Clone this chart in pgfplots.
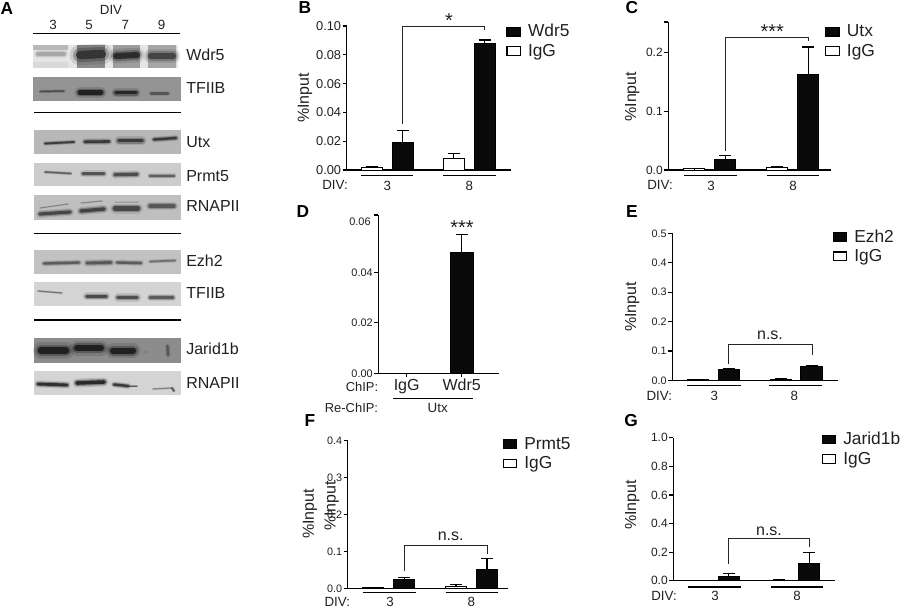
\documentclass[border=0pt]{standalone}
\usepackage{pgfplots}
\pgfplotsset{compat=1.18}
\usepackage{fontspec}
\setmainfont{Liberation Sans}
\definecolor{barblk}{HTML}{0A0A0A}
\definecolor{lab}{HTML}{231F20}
\newcommand{\fz}[1]{\fontsize{#1}{#1}\selectfont}
% ---- overlay helpers, coordinates in reference pixels
\newcommand{\bg}[5]{\addplot[draw=none,fill=black!#5] coordinates {(#1,#3)(#2,#3)(#2,#4)(#1,#4)} --cycle;}
\newcommand{\band}[6]{%
  \addplot[black!#6,opacity=.14,line width=#5*2.2pt,line cap=round] coordinates {(#1,#3)(#2,#4)};
  \addplot[black!#6,opacity=.3,line width=#5*1.5pt,line cap=round] coordinates {(#1,#3)(#2,#4)};
  \addplot[black!#6,opacity=.75,line width=#5*.9pt,line cap=round] coordinates {(#1,#3)(#2,#4)};}
\newcommand{\rul}[3]{\addplot[black,line width=1.1pt] coordinates {(#1,#3)(#2,#3)};}
\newcommand{\lbl}[3]{\node[font=\fz{12},text=lab,anchor=west,inner sep=0pt] at (axis cs:#1,#2) {#3};}
\newcommand{\txt}[4]{\node[font=\fz{#3},text=lab,inner sep=0pt] at (axis cs:#1,#2) {#4};}
\newcommand{\letter}[3]{\node[font=\fz{13}\bfseries,inner sep=0pt] at (axis cs:#1,#2) {#3};}
\pgfplotsset{
  panel/.style={scale only axis, anchor=south west, clip=false,
    axis lines=left, axis line style={-,line width=.9pt,black},
    tick style={line width=.9pt,black}, tick align=outside, major tick length=3pt,
    xtick=\empty, ymin=0, scaled y ticks=false,
    yticklabel style={text=lab,inner sep=1pt},
    y label style={font=\fz{12},text=lab,anchor=center},
    legend cell align=left,
    legend image code/.code={\draw[##1,line width=.9pt] (0pt,-2.5pt) rectangle (10pt,3.9pt);\path (15.5pt,0pt);},
  },
  lg/.style 2 args={legend style={at={(rel axis cs:0,0)},anchor=north west,xshift=#1,yshift=#2+1.9pt,
    draw=none,fill=none,inner sep=0pt,font=\fz{13},text=lab,row sep=2.1pt,
    nodes={inner sep=0pt,text height=9.5pt,text depth=3pt}}},
  errs/.style={/pgfplots/error bars/y dir=plus,/pgfplots/error bars/y explicit,
    /pgfplots/error bars/error bar style={line width=.9pt,black},
    /pgfplots/error bars/error mark options={rotate=90,mark size=4.5pt,line width=.9pt,black}},
  sbar/.style={ybar,bar shift=0pt,draw=black,fill=barblk,line width=.7pt,errs},
  wbar/.style={ybar,bar shift=0pt,draw=black,fill=white,line width=.7pt,errs},
  brk/.style={line width=.7pt,black!85,forget plot},
}
\begin{document}
\begin{tikzpicture}
\useasboundingbox (0,-456pt) rectangle (675pt,0pt);
% ===== overlay: panel A, rules, annotations
\begin{axis}[at={(0pt,-456pt)},anchor=south west,scale only axis,width=675pt,height=456pt,
  xmin=0,xmax=900,ymin=0,ymax=608,y dir=reverse,hide axis,clip=false]
% Wdr5
\bg{33.3}{178}{45}{68.3}{10}
\bg{33.3}{68}{45}{50}{28}\bg{33.3}{68}{62}{68.3}{15}
\bg{77}{105}{45}{68.3}{45}\bg{113}{140}{45}{68.3}{38}\bg{148}{176}{45}{68.3}{35}
\band{38}{64}{54}{54}{3}{38}
\band{80}{102}{55}{54}{7}{85}
\band{116}{137}{56}{55}{5}{90}
\band{151}{173}{56}{56}{5}{80}
% TFIIB
\bg{33.3}{181}{77.3}{101}{42}
\band{40}{64}{91.5}{91}{1.2}{75}
\band{80}{101}{92.5}{92.5}{3.8}{95}
\band{116}{136}{92.5}{92.5}{3}{92}
\band{151}{168}{93.5}{93.5}{1.8}{70}
% Utx
\bg{34.3}{181}{130}{154}{28}
\band{45}{74}{143.5}{142}{1.5}{85}
\band{85}{109}{141.7}{141.5}{2.2}{85}
\band{119}{142}{140.5}{140.5}{3}{85}
\band{154}{176}{139.5}{138}{2}{85}
% Prmt5
\bg{34.3}{181}{162.7}{186}{20}
\band{45}{71}{172}{173.5}{1.2}{70}
\band{83}{104}{173.7}{173.7}{2.2}{75}
\band{115}{137}{174.7}{174.2}{2.6}{78}
\band{150}{174}{175.7}{175.7}{1.8}{70}
% RNAPII
\bg{34.3}{181}{195.3}{220}{25}
\band{40}{70}{214}{212}{2.6}{80}
\band{40}{68}{208}{204}{.6}{55}
\band{81}{104}{211}{209}{2.8}{82}
\band{81}{102}{203}{201}{.6}{55}
\band{115}{138}{208.5}{208.5}{3.4}{80}
\band{115}{138}{202}{202}{.8}{40}
\band{150}{174}{206}{206}{2.8}{72}
% Ezh2
\bg{33.7}{181}{250}{274}{24}
\band{44}{79}{263.5}{262.5}{2}{70}
\band{87}{111}{263}{262.5}{2.4}{72}
\band{117}{141}{262.5}{263}{2}{70}
\band{150}{175}{261.5}{260.5}{1.4}{62}
% TFIIB
\bg{33.7}{181}{281.7}{306}{17}
\band{38}{62}{291}{293}{.8}{62}
\band{87}{106}{296.3}{296.3}{2.8}{80}
\band{118}{137}{297.5}{297.5}{2.8}{78}
\band{150}{173}{297.5}{297.5}{2.2}{72}
% Jarid1b
\bg{33.7}{181}{338.3}{362.7}{45}
\band{41}{66}{350.5}{350.5}{5.5}{95}
\band{77}{101}{348.3}{348.3}{5}{95}
\band{113}{133}{350.5}{350.5}{5}{95}
\band{144}{148}{352}{352}{1.5}{50}
\band{167.5}{168}{346}{355}{1.8}{70}
% RNAPII
\bg{33.7}{181}{371}{395.3}{17}
\band{38}{67}{384}{385}{2.4}{92}
\band{77}{104}{383}{382}{3}{95}
\band{114}{128}{384.5}{386}{2}{88}
\band{128}{137}{386}{386}{.8}{75}
\band{153}{172}{389}{388}{.8}{55}
\band{172}{174}{388}{391}{1.2}{75}
% rules of panel A
\rul{33.3}{180.3}{33.3}\rul{34.3}{181}{112.7}\rul{34.3}{181}{233.3}\rul{34.3}{181}{320}
\txt{111}{10}{10}{DIV}
\txt{53}{25}{10}{3}\txt{89}{25}{10}{5}\txt{125.3}{25}{10}{7}\txt{161.7}{25}{10}{9}
\lbl{186}{55}{Wdr5}\lbl{186}{88}{TFIIB}\lbl{186}{141.7}{Utx}\lbl{186}{175.7}{Prmt5}\lbl{186}{205.7}{RNAPII}
\lbl{186}{260.7}{Ezh2}\lbl{186}{292.7}{TFIIB}\lbl{186}{349}{Jarid1b}\lbl{186}{382.7}{RNAPII}
% panel letters
\letter{7}{9}{A}\letter{305}{8}{B}\letter{632}{8}{C}\letter{303}{212}{D}\letter{632}{212}{E}\letter{310}{421}{F}\letter{631}{421}{G}
% underlines and DIV labels
\rul{361}{413}{175.7}\rul{443.3}{496}{175.7}
\txt{335}{185}{10}{DIV:}\txt{387.3}{186}{10}{3}\txt{469.3}{186}{10}{8}
\rul{684.3}{737.3}{175.7}\rul{766.7}{819.3}{175.7}
\txt{660}{185}{10}{DIV:}\txt{711}{186}{10}{3}\txt{793}{186}{10}{8}
\rul{393.3}{473.3}{398.7}
\txt{362}{386.7}{9.7}{ChIP:}\txt{351.5}{408}{9.7}{Re-ChIP:}\txt{437.7}{408}{10}{Utx}
\rul{687.3}{740.7}{385.7}\rul{769.3}{822.3}{385.7}
\txt{659.3}{395.7}{10}{DIV:}\txt{714.3}{396}{10}{3}\txt{794.3}{396}{10}{8}
\rul{362.7}{416}{592.7}\rul{445.7}{498.3}{592.7}
\txt{337.3}{602}{10}{DIV:}\txt{390}{602}{10}{3}\txt{471.3}{602}{10}{8}
\rul{688.3}{741}{587}\rul{770.7}{823.3}{587}
\txt{664}{595.7}{10}{DIV:}\txt{715}{596}{10}{3}\txt{797}{596}{10}{8}
% significance
\txt{449}{21}{15}{*}\txt{772.3}{32}{15}{***}\txt{462}{227.7}{15}{***}
\txt{770}{335.7}{12}{n.s.}\txt{450.7}{536.7}{12}{n.s.}\txt{769}{531}{12}{n.s.}
% 0.06 label of D, second y label of F
\txt{360}{222}{8.2}{0.06}
\node[font=\fz{12},text=lab,rotate=90,inner sep=0pt] at (axis cs:331.7,505.8) {\%Input};
\end{axis}
% ===== B
\begin{axis}[panel,at={(346.7*.75pt,-170*.75pt)},width=123.2pt,height=108pt,
  xmin=.178,xmax=5.513,ymax=.1,ytick={0,.02,.04,.06,.08,.1},
  yticklabels={0.00,0.02,0.04,0.06,0.08,0.10},yticklabel style={font=\fz{9.6}},
  ylabel={\%Input},y label style={at={(rel axis cs:-.2538,.5)}},
  lg={119.5pt}{107.6pt}]
\addplot[sbar,bar width=15.75pt] coordinates {(2,.019)+-(0,.0086) (4.659,.088)+-(0,.0023)};
\addplot[wbar,bar width=15.75pt] coordinates {(1,.002)+-(0,.0003) (3.659,.008)+-(0,.0035)};
\addplot[brk] coordinates {(1.997,.032)(1.997,.0995)(4.659,.0995)(4.659,.0975)};
\legend{Wdr5,IgG}
\end{axis}
% ===== C
\begin{axis}[panel,at={(668.3*.75pt,-170*.75pt)},width=121.8pt,height=111pt,
  xmin=.164,xmax=5.386,ymax=.2513,ytick={0,.1,.2,.2513},
  yticklabels={0.0,0.1,0.2,},yticklabel style={font=\fz{9}},
  ylabel={\%Input},y label style={at={(rel axis cs:-.2217,.495)}},
  lg={117.5pt}{107.6pt}]
\addplot[sbar,bar width=15.75pt] coordinates {(2,.018)+-(0,.007) (4.666,.162)+-(0,.047)};
\addplot[wbar,bar width=15.75pt] coordinates {(1,.002)+-(0,.0005) (3.666,.004)+-(0,.002)};
\addplot[brk] coordinates {(2.01,.033)(2.01,.2246)(4.678,.2246)(4.678,.2185)};
\legend{Utx,IgG}
\end{axis}
% ===== D
\begin{axis}[panel,at={(378.3*.75pt,-373.3*.75pt)},width=90.5pt,height=118.7pt,
  xmin=.484,xmax=2.678,ymax=.0627,ytick={0,.02,.04,.0627},
  yticklabels={0.00,0.02,0.04,},yticklabel style={font=\fz{8.2}},
  xtick={1,2},xticklabels={IgG,Wdr5},xticklabel style={font=\fz{12},text=lab,inner sep=0pt,yshift=-1pt}]
\addplot[sbar,bar width=17pt] coordinates {(1,0)+-(0,0) (2,.048)+-(0,.0069)};
\end{axis}
% ===== E
\begin{axis}[panel,at={(672.3*.75pt,-380.3*.75pt)},width=124.05pt,height=110.25pt,
  xmin=.151,xmax=5.574,ymax=.5,ytick={0,.1,.2,.3,.4,.5},
  yticklabels={0.0,0.1,0.2,0.3,0.4,0.5},yticklabel style={font=\fz{8.1}},
  ylabel={\%Input},y label style={at={(rel axis cs:-.2418,.4986)}},
  lg={120pt}{111.5pt}]
\addplot[sbar,bar width=16pt] coordinates {(2,.037)+-(0,.002) (4.715,.048)+-(0,.003)};
\addplot[wbar,bar width=16pt] coordinates {(1,.002)+-(0,.0005) (3.708,.004)+-(0,.001)};
\addplot[brk] coordinates {(1.987,.0555)(1.987,.1235)(4.731,.1235)(4.731,.085)};
\legend{Ezh2,IgG}
\end{axis}
% ===== F
\begin{axis}[panel,at={(347.7*.75pt,-588.3*.75pt)},width=120.45pt,height=110.7pt,
  xmin=.174,xmax=5.355,ymax=.4,ytick={0,.1,.2,.3,.4},
  yticklabels={0.0,0.1,0.2,0.3,0.4},yticklabel style={font=\fz{8.1}},
  ylabel={\%Input},y label style={at={(rel axis cs:-.2347,.505)}},
  lg={116pt}{112pt}]
\addplot[sbar,bar width=15.75pt] coordinates {(2,.0235)+-(0,.0055) (4.668,.0515)+-(0,.029)};
\addplot[wbar,bar width=15.75pt] coordinates {(1,.002)+-(0,.0005) (3.668,.006)+-(0,.004)};
\addplot[brk] coordinates {(2,.046)(2,.1165)(4.677,.1165)(4.677,.093)};
\legend{Prmt5,IgG}
\end{axis}
% ===== G
\begin{axis}[panel,at={(673.3*.75pt,-580.7*.75pt)},width=121.3pt,height=107.25pt,
  xmin=.168,xmax=5.505,ymax=1,ytick={0,.2,.4,.6,.8,1},
  yticklabels={0.0,0.2,0.4,0.6,0.8,1.0},yticklabel style={font=\fz{9}},
  ylabel={\%Input},y label style={at={(rel axis cs:-.2536,.531)}},
  lg={111pt}{109.7pt}]
\addplot[sbar,bar width=15.75pt] coordinates {(2,.0326)+-(0,.018) (4.657,.121)+-(0,.077)};
\addplot[wbar,bar width=15.75pt] coordinates {(1,.002)+-(0,.001) (3.663,.005)+-(0,.001)};
\addplot[brk] coordinates {(1.983,.117)(1.983,.298)(4.647,.298)(4.647,.238)};
\legend{Jarid1b,IgG}
\end{axis}
\end{tikzpicture}
\end{document}
